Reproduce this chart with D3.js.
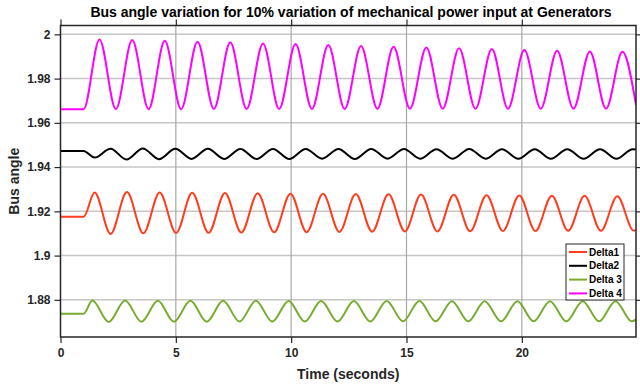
<!DOCTYPE html>
<html>
<head>
<meta charset="utf-8">
<script src="https://cdn.jsdelivr.net/npm/d3@7"></script>
<style>
  html, body { margin: 0; padding: 0; background: #fff; }
  svg { display: block; }
  text { font-family: "Liberation Sans", Arial, Helvetica, sans-serif; }
</style>
</head>
<body>
<svg id="chart" width="640" height="386"></svg>
<script>
// ---------- DATA ----------
const titleText = "Bus angle variation for 10% variation of mechanical power input at Generators";
const xLabelText = "Time (seconds)";
const yLabelText = "Bus angle";
const seriesNames = ["Delta1", "Delta2", "Delta 3", "Delta 4"];
const seriesColors = ["#ff3c1e", "#000000", "#77ac30", "#ff00ff"];

const xTicks = [0, 5, 10, 15, 20];
const xTickLabels = ["0", "5", "10", "15", "20"];
const yTicks = [1.88, 1.9, 1.92, 1.94, 1.96, 1.98, 2];
const yTickLabels = ["1.88", "1.9", "1.92", "1.94", "1.96", "1.98", "2"];
const xDomain = [0, 24.95];
const yDomain = [1.8632, 2.0040];

// Delta1 (red): start, then alternating peaks / troughs, then end point
const delta1Time = [0, 1.0, 1.48, 2.17, 2.88, 3.59, 4.30, 5.01, 5.71, 6.42, 7.13, 7.84, 8.55, 9.26, 9.97, 10.67,
  11.38, 12.09, 12.80, 13.51, 14.22, 14.93, 15.63, 16.34, 17.05, 17.76, 18.47, 19.18, 19.89, 20.59, 21.30, 22.01,
  22.72, 23.43, 24.14, 24.85, 24.95];
const delta1Value = [1.9175, 1.9175, 1.9285, 1.9098, 1.9287, 1.9101, 1.9285, 1.9102, 1.9284, 1.9103, 1.9283, 1.9104,
  1.9282, 1.9105, 1.9280, 1.9106, 1.9279, 1.9107, 1.9278, 1.9108, 1.9277, 1.9109, 1.9276, 1.9109, 1.9275, 1.9110,
  1.9273, 1.9111, 1.9272, 1.9111, 1.9271, 1.9112, 1.9270, 1.9112, 1.9268, 1.9113, 1.9115];

// Delta2 (black)
const delta2Time = [0, 1.0, 1.48, 2.17, 2.86, 3.57, 4.27, 4.98, 5.68, 6.39, 7.09, 7.80, 8.50, 9.21, 9.92, 10.63,
  11.34, 12.05, 12.76, 13.47, 14.18, 14.89, 15.59, 16.30, 17.01, 17.72, 18.43, 19.14, 19.85, 20.56, 21.26, 21.97,
  22.68, 23.39, 24.10, 24.81, 24.95];
const delta2Value = [1.9473, 1.9473, 1.9443, 1.9483, 1.9434, 1.9484, 1.9436, 1.9483, 1.9437, 1.9483, 1.9437, 1.9482,
  1.9437, 1.9482, 1.9437, 1.9482, 1.9438, 1.9482, 1.9437, 1.9482, 1.9438, 1.9482, 1.9438, 1.9481, 1.9438, 1.9482,
  1.9438, 1.9481, 1.9438, 1.9481, 1.9438, 1.9481, 1.9438, 1.9481, 1.9438, 1.9481, 1.9480];

// Delta 3 (green)
const delta3Time = [0, 1.0, 1.38, 2.09, 2.80, 3.51, 4.22, 4.92, 5.63, 6.34, 7.05, 7.76, 8.47, 9.18, 9.89, 10.59,
  11.30, 12.01, 12.72, 13.43, 14.14, 14.85, 15.56, 16.26, 16.97, 17.68, 18.39, 19.10, 19.81, 20.51, 21.22, 21.93,
  22.64, 23.35, 24.06, 24.77, 24.95];
const delta3Value = [1.8737, 1.8737, 1.8797, 1.8700, 1.8797, 1.8701, 1.8796, 1.8701, 1.8796, 1.8701, 1.8796, 1.8702,
  1.8796, 1.8702, 1.8795, 1.8702, 1.8795, 1.8702, 1.8795, 1.8702, 1.8795, 1.8703, 1.8795, 1.8703, 1.8794, 1.8703,
  1.8794, 1.8703, 1.8794, 1.8703, 1.8794, 1.8703, 1.8794, 1.8703, 1.8794, 1.8703, 1.8710];

// Delta 4 (magenta)
const delta4Time = [0, 1.0, 1.69, 2.40, 3.11, 3.82, 4.52, 5.23, 5.94, 6.65, 7.36, 8.07, 8.78, 9.48, 10.19, 10.90,
  11.61, 12.32, 13.03, 13.74, 14.44, 15.15, 15.86, 16.57, 17.28, 17.99, 18.70, 19.40, 20.11, 20.82, 21.53, 22.24,
  22.95, 23.65, 24.36, 24.95];
const delta4Value = [1.9661, 1.9661, 1.9977, 1.9662, 1.9974, 1.9662, 1.9971, 1.9662, 1.9967, 1.9663, 1.9964, 1.9663,
  1.9959, 1.9663, 1.9956, 1.9663, 1.9952, 1.9663, 1.9947, 1.9664, 1.9944, 1.9664, 1.9941, 1.9664, 1.9937, 1.9664,
  1.9934, 1.9664, 1.9929, 1.9664, 1.9926, 1.9664, 1.9923, 1.9664, 1.9921, 1.9680];

const seriesTimes = [delta1Time, delta2Time, delta3Time, delta4Time];
const seriesValues = [delta1Value, delta2Value, delta3Value, delta4Value];

// ---------- LAYOUT ----------
const W = 640, H = 386;
const plot = { left: 60.5, right: 636, top: 25.5, bottom: 337 };

const svg = d3.select("#chart");
const x = d3.scaleLinear().domain(xDomain).range([plot.left, plot.right]);
const y = d3.scaleLinear().domain(yDomain).range([plot.bottom, plot.top]);

svg.append("defs").append("clipPath").attr("id", "clip")
  .append("rect").attr("x", plot.left).attr("y", plot.top)
  .attr("width", plot.right - plot.left).attr("height", plot.bottom - plot.top);

// gridlines
const grid = svg.append("g");
grid.selectAll("line.hg").data(yTicks).join("line")
  .attr("x1", plot.left).attr("x2", plot.right)
  .attr("y1", d => y(d)).attr("y2", d => y(d))
  .attr("stroke", "#c6c6c6").attr("stroke-width", 1.5);
grid.selectAll("line.vg").data(xTicks.filter(d => d > 0)).join("line")
  .attr("x1", d => x(d)).attr("x2", d => x(d))
  .attr("y1", plot.top).attr("y2", plot.bottom)
  .attr("stroke", "#a8a8a8").attr("stroke-width", 1.2);

// lines
const line = d3.line().curve(d3.curveMonotoneX)
  .x(d => x(d[0])).y(d => y(d[1]));
const lines = svg.append("g").attr("clip-path", "url(#clip)");
seriesNames.forEach((name, i) => {
  const pts = seriesTimes[i].map((t, j) => [t, seriesValues[i][j]]);
  lines.append("path").datum(pts)
    .attr("fill", "none").attr("stroke", seriesColors[i])
    .attr("stroke-width", 2).attr("stroke-linejoin", "round")
    .attr("d", line);
});

// axes
const axisColor = "#262626";
function styleAxis(g, showText) {
  g.select(".domain").remove();
  g.selectAll(".tick line").attr("stroke", axisColor).attr("stroke-width", 1.2);
  g.selectAll(".tick text")
    .attr("fill", "#262626").attr("font-size", "12px").attr("font-weight", "bold")
    .style("display", showText ? null : "none");
}
const xAxis = svg.append("g").attr("transform", `translate(0,${plot.bottom})`)
  .call(d3.axisBottom(x).tickValues(xTicks).tickFormat((d, i) => xTickLabels[i]).tickSizeOuter(0).tickSize(6).tickPadding(5));
styleAxis(xAxis, true);
const xAxisTop = svg.append("g").attr("transform", `translate(0,${plot.top})`)
  .call(d3.axisTop(x).tickValues(xTicks).tickSizeOuter(0).tickSize(6));
styleAxis(xAxisTop, false);
const yAxis = svg.append("g").attr("transform", `translate(${plot.left},0)`)
  .call(d3.axisLeft(y).tickValues(yTicks).tickFormat((d, i) => yTickLabels[i]).tickSizeOuter(0).tickSize(6).tickPadding(4));
styleAxis(yAxis, true);
const yAxisRight = svg.append("g").attr("transform", `translate(${plot.right},0)`)
  .call(d3.axisRight(y).tickValues(yTicks).tickSizeOuter(0).tickSize(6));
styleAxis(yAxisRight, false);

// frame
svg.append("rect")
  .attr("x", plot.left).attr("y", plot.top)
  .attr("width", plot.right - plot.left).attr("height", plot.bottom - plot.top)
  .attr("fill", "none").attr("stroke", axisColor).attr("stroke-width", 1.5);

// title and labels
svg.append("text").attr("x", 351).attr("y", 17)
  .attr("text-anchor", "middle").attr("font-size", "14px").attr("font-weight", "bold")
  .attr("fill", "#000").text(titleText);
svg.append("text").attr("x", (plot.left + plot.right) / 2).attr("y", 379)
  .attr("text-anchor", "middle").attr("font-size", "14px").attr("font-weight", "bold")
  .attr("fill", "#262626").text(xLabelText);
svg.append("text")
  .attr("transform", `translate(19,${(plot.top + plot.bottom) / 2}) rotate(-90)`)
  .attr("text-anchor", "middle").attr("font-size", "14px").attr("font-weight", "bold")
  .attr("fill", "#262626").text(yLabelText);

// legend
const leg = { x: 566, y: 244, w: 58, h: 56, row: 13.8 };
const lg = svg.append("g");
lg.append("rect").attr("x", leg.x).attr("y", leg.y).attr("width", leg.w).attr("height", leg.h)
  .attr("fill", "#fff").attr("stroke", "#262626").attr("stroke-width", 1);
seriesNames.forEach((name, i) => {
  const cy = leg.y + 8 + i * leg.row;
  lg.append("line").attr("x1", leg.x + 3).attr("x2", leg.x + 21)
    .attr("y1", cy).attr("y2", cy)
    .attr("stroke", seriesColors[i]).attr("stroke-width", 2);
  lg.append("text").attr("x", leg.x + 23).attr("y", cy + 3.5)
    .attr("font-size", "10px").attr("font-weight", "bold").attr("fill", "#000")
    .text(name);
});
</script>
</body>
</html>
